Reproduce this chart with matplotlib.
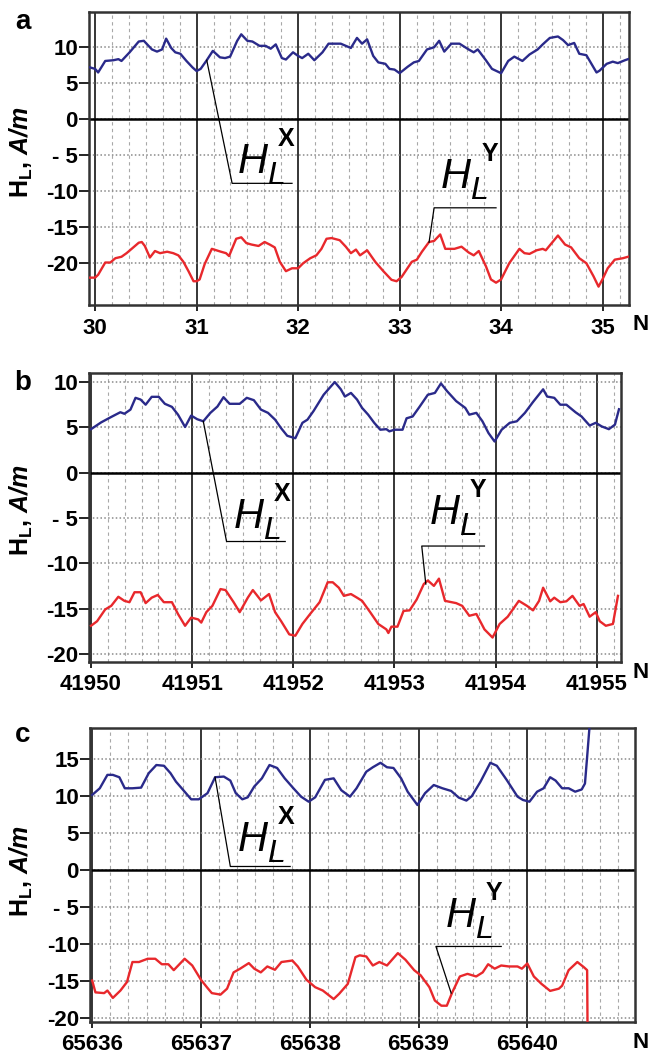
import numpy as np
import matplotlib
matplotlib.use("Agg")
import matplotlib.pyplot as plt
from matplotlib.ticker import MultipleLocator, FixedLocator, FixedFormatter

plt.rcParams['font.family'] = ['Liberation Sans', 'DejaVu Sans']
plt.rcParams['mathtext.fontset'] = 'custom'
plt.rcParams['mathtext.rm'] = 'Liberation Sans'
plt.rcParams['mathtext.it'] = 'Liberation Sans:italic'
plt.rcParams['mathtext.bf'] = 'Liberation Sans:bold'
plt.rcParams['mathtext.bfit'] = 'Liberation Sans:italic:bold'

BLUE = '#2a2a8a'
RED = '#e8282c'

# ---- panel a ----
a_n_x = [29.95, 30.0, 30.03, 30.10, 30.18, 30.23, 30.26, 30.34, 30.43, 30.48, 30.56, 30.61, 30.66, 30.70,
         30.75, 30.79, 30.84, 30.90, 30.96, 31.0, 31.04, 31.10, 31.16, 31.23, 31.28, 31.33, 31.40, 31.44,
         31.50, 31.55, 31.62, 31.68, 31.73, 31.78, 31.84, 31.88, 31.95, 32.0, 32.04, 32.10, 32.16, 32.24,
         32.30, 32.42, 32.52, 32.58, 32.63, 32.68, 32.74, 32.79, 32.86, 32.90, 32.95, 33.0, 33.08, 33.14,
         33.19, 33.27, 33.34, 33.39, 33.44, 33.51, 33.59, 33.68, 33.73, 33.77, 33.85, 33.91, 34.0, 34.07,
         34.13, 34.21, 34.28, 34.36, 34.41, 34.48, 34.56, 34.61, 34.66, 34.72, 34.77, 34.84, 34.94, 34.97,
         35.04, 35.10, 35.15, 35.22, 35.25]
a_hx = [7.2, 7.0, 6.5, 8.1, 8.2, 8.35, 8.1, 9.3, 10.8, 10.9, 9.7, 9.4, 9.7, 11.2,
        9.9, 9.3, 9.1, 8.1, 7.2, 6.7, 7.0, 8.2, 9.5, 8.6, 8.5, 8.7, 10.9, 11.8,
        10.9, 10.8, 10.2, 10.2, 9.8, 10.4, 8.5, 8.3, 9.3, 8.8, 8.5, 9.1, 8.2, 9.3,
        10.5, 10.5, 9.9, 11.3, 10.5, 11.1, 8.8, 7.9, 7.7, 7.0, 6.9, 6.4, 7.3, 7.9,
        8.1, 9.7, 10.0, 10.9, 9.4, 10.5, 10.5, 9.7, 9.3, 9.7, 8.2, 7.0, 6.4, 8.1,
        8.7, 8.1, 9.0, 9.7, 10.4, 11.3, 11.5, 11.0, 10.3, 10.6, 9.1, 8.9, 6.5, 6.75,
        7.7, 8.0, 7.8, 8.2, 8.35]
a_n_y = [29.95, 30.0, 30.03, 30.10, 30.15, 30.20, 30.26, 30.31, 30.36, 30.43, 30.46, 30.49, 30.54, 30.59,
         30.64, 30.71, 30.77, 30.82, 30.87, 30.92, 30.97, 31.0, 31.03, 31.08, 31.15, 31.24, 31.29, 31.32,
         31.39, 31.44, 31.49, 31.54, 31.61, 31.67, 31.72, 31.77, 31.82, 31.88, 31.94, 32.0, 32.05, 32.12,
         32.18, 32.23, 32.28, 32.33, 32.41, 32.47, 32.52, 32.57, 32.61, 32.68, 32.76, 32.84, 32.92, 32.97,
         33.02, 33.12, 33.17, 33.22, 33.29, 33.34, 33.40, 33.45, 33.54, 33.61, 33.68, 33.73, 33.78, 33.85,
         33.90, 33.95, 34.0, 34.08, 34.18, 34.23, 34.28, 34.35, 34.41, 34.44, 34.56, 34.63, 34.69, 34.77,
         34.84, 34.91, 34.96, 35.0, 35.05, 35.12, 35.20, 35.25]
a_hy = [-22.0, -22.0, -21.6, -19.9, -19.9, -19.3, -19.1, -18.6, -18.0, -17.15, -17.05, -17.6, -19.2, -18.3,
        -18.6, -18.4, -18.6, -18.9, -19.8, -21.1, -22.5, -22.5, -22.25, -20.1, -18.0, -18.4, -18.6, -19.0,
        -16.6, -16.4, -17.2, -17.4, -17.6, -17.05, -17.4, -17.8, -19.8, -21.1, -20.7, -20.7, -20.0, -19.3,
        -18.9, -18.0, -16.6, -16.5, -16.8, -17.7, -18.6, -18.1, -18.9, -18.2, -19.8, -21.1, -22.3, -22.5,
        -21.9, -19.8, -19.5, -18.4, -17.05, -16.9, -16.0, -18.0, -18.0, -17.7, -18.5, -18.9, -18.3, -20.4,
        -22.25, -22.7, -22.25, -20.0, -18.0, -18.6, -18.7, -18.2, -18.0, -18.2, -16.15, -17.4, -17.8, -19.3,
        -20.0, -21.8, -23.25, -22.2, -20.7, -19.5, -19.3, -19.1]

# ---- panel b ----
b_n_x = [41950.00, 41950.10, 41950.20, 41950.29, 41950.33, 41950.39, 41950.44, 41950.49, 41950.54, 41950.60,
         41950.67, 41950.73, 41950.80, 41950.86, 41950.93, 41950.99, 41951.05, 41951.11, 41951.18, 41951.25,
         41951.31, 41951.37, 41951.47, 41951.54, 41951.61, 41951.68, 41951.75, 41951.82, 41951.88, 41951.94,
         41952.02, 41952.09, 41952.14, 41952.20, 41952.30, 41952.36, 41952.41, 41952.47, 41952.51, 41952.57,
         41952.63, 41952.68, 41952.74, 41952.80, 41952.86, 41952.92, 41952.95, 41953.00, 41953.08, 41953.12,
         41953.18, 41953.25, 41953.33, 41953.40, 41953.46, 41953.52, 41953.61, 41953.70, 41953.74, 41953.81,
         41953.87, 41953.93, 41953.99, 41954.06, 41954.14, 41954.21, 41954.29, 41954.37, 41954.47, 41954.51,
         41954.58, 41954.64, 41954.70, 41954.79, 41954.85, 41954.93, 41954.99, 41955.05, 41955.12, 41955.18,
         41955.22]
b_hx = [4.8, 5.55, 6.15, 6.67, 6.5, 6.96, 8.26, 8.07, 7.5, 8.37,
        8.37, 7.6, 7.26, 6.4, 5.04, 6.3, 5.9, 5.67, 6.6, 7.3,
        8.33, 7.6, 7.6, 8.26, 8.0, 6.96, 6.6, 5.85, 4.9, 4.07,
        3.8, 5.5, 5.85, 6.8, 8.6, 9.37, 10.0, 9.2, 8.4, 8.8,
        8.07, 7.15, 6.4, 5.5, 4.74, 4.8, 4.56, 4.74, 4.74, 6.0,
        6.2, 7.3, 8.6, 8.8, 9.85, 9.0, 7.9, 7.15, 6.4, 6.6,
        5.67, 4.37, 3.44, 4.74, 5.5, 5.67, 6.6, 7.8, 9.2, 8.4,
        8.26, 7.5, 7.5, 6.67, 6.2, 5.2, 5.5, 5.1, 4.8, 5.3,
        7.0]
b_n_y = [41950.00, 41950.06, 41950.14, 41950.20, 41950.27, 41950.33, 41950.38, 41950.43, 41950.49, 41950.54,
         41950.60, 41950.66, 41950.72, 41950.80, 41950.86, 41950.93, 41950.99, 41951.06, 41951.09, 41951.14,
         41951.20, 41951.28, 41951.33, 41951.41, 41951.47, 41951.55, 41951.60, 41951.68, 41951.76, 41951.82,
         41951.88, 41951.96, 41952.02, 41952.09, 41952.17, 41952.26, 41952.34, 41952.39, 41952.45, 41952.50,
         41952.57, 41952.63, 41952.68, 41952.76, 41952.84, 41952.92, 41952.94, 41952.97, 41953.03, 41953.09,
         41953.15, 41953.22, 41953.29, 41953.33, 41953.39, 41953.44, 41953.50, 41953.61, 41953.67, 41953.74,
         41953.81, 41953.89, 41953.97, 41954.04, 41954.12, 41954.23, 41954.31, 41954.37, 41954.43, 41954.47,
         41954.54, 41954.58, 41954.64, 41954.70, 41954.76, 41954.83, 41954.87, 41954.93, 41954.99, 41955.03,
         41955.09, 41955.16, 41955.21]
b_hy = [-16.9, -16.4, -15.1, -14.7, -13.7, -14.15, -14.3, -13.2, -13.2, -14.4,
        -13.8, -13.5, -14.3, -14.3, -15.6, -16.9, -16.0, -16.2, -16.55, -15.4,
        -14.7, -12.85, -12.96, -14.3, -15.4, -13.8, -12.96, -14.1, -13.4, -15.4,
        -16.4, -17.85, -18.0, -16.7, -15.55, -14.3, -12.1, -12.1, -12.7, -13.6,
        -13.4, -13.8, -14.15, -15.4, -16.7, -17.3, -17.7, -17.0, -17.0, -15.26,
        -15.2, -14.0, -12.3, -11.9, -12.5, -11.7, -14.15, -14.4, -14.7, -15.8,
        -15.6, -17.3, -18.2, -16.7, -15.9, -14.15, -14.7, -15.2, -14.15, -12.7,
        -14.2, -13.8, -14.3, -14.2, -13.6, -14.7, -14.5, -15.9, -15.4, -16.4,
        -16.9, -16.7, -13.6]

# ---- panel c ----
c_n_x = [65636.00, 65636.07, 65636.14, 65636.19, 65636.25, 65636.30, 65636.37, 65636.45, 65636.52, 65636.59,
         65636.66, 65636.72, 65636.77, 65636.85, 65636.91, 65636.98, 65637.06, 65637.13, 65637.21, 65637.27,
         65637.32, 65637.38, 65637.43, 65637.49, 65637.56, 65637.63, 65637.70, 65637.77, 65637.85, 65637.92,
         65637.99, 65638.05, 65638.14, 65638.22, 65638.29, 65638.37, 65638.43, 65638.52, 65638.58, 65638.65,
         65638.71, 65638.77, 65638.84, 65638.90, 65638.99, 65639.06, 65639.14, 65639.22, 65639.30, 65639.37,
         65639.44, 65639.49, 65639.57, 65639.66, 65639.72, 65639.81, 65639.91, 65639.96, 65640.02, 65640.09,
         65640.15, 65640.21, 65640.26, 65640.32, 65640.38, 65640.44, 65640.50, 65640.53, 65640.55, 65640.57,
         65640.59]
c_hx = [10.16, 11.06, 12.87, 12.87, 12.55, 11.06, 11.06, 11.15, 13.1, 14.2,
        14.1, 13.1, 11.96, 10.6, 9.57, 9.57, 10.4, 12.55, 12.64, 12.1,
        10.4, 9.57, 9.84, 11.3, 12.4, 14.2, 13.8, 12.4, 11.06, 9.93,
        9.25, 9.84, 12.2, 12.4, 10.8, 9.93, 11.06, 13.3, 13.9, 14.5,
        13.9, 13.8, 12.4, 10.6, 8.8, 10.4, 11.5, 11.06, 10.7, 9.8,
        9.4, 10.0, 11.96, 14.5, 14.1, 12.2, 9.93, 9.48, 9.25, 10.6,
        11.06, 12.55, 12.1, 11.06, 11.06, 10.6, 10.9, 11.7, 15.3, 19.0,
        24.0]
c_n_y = [65636.00, 65636.03, 65636.11, 65636.14, 65636.19, 65636.26, 65636.32, 65636.37, 65636.43, 65636.51,
         65636.58, 65636.64, 65636.70, 65636.75, 65636.85, 65636.92, 65637.00, 65637.06, 65637.10, 65637.18,
         65637.24, 65637.30, 65637.36, 65637.44, 65637.49, 65637.55, 65637.61, 65637.68, 65637.74, 65637.84,
         65637.89, 65637.97, 65638.05, 65638.12, 65638.22, 65638.27, 65638.35, 65638.42, 65638.46, 65638.52,
         65638.58, 65638.64, 65638.71, 65638.81, 65638.88, 65638.96, 65639.02, 65639.10, 65639.15, 65639.21,
         65639.26, 65639.31, 65639.38, 65639.45, 65639.53, 65639.59, 65639.64, 65639.70, 65639.76, 65639.83,
         65639.91, 65639.95, 65640.00, 65640.06, 65640.13, 65640.21, 65640.29, 65640.32, 65640.38, 65640.46,
         65640.52, 65640.55, 65640.555]
c_hy = [-14.9, -16.5, -16.6, -16.25, -17.25, -16.25, -15.1, -12.4, -12.4, -11.96,
        -11.96, -12.7, -12.7, -13.5, -11.96, -12.87, -14.8, -15.9, -16.6, -16.8,
        -16.0, -13.8, -13.3, -12.55, -13.3, -13.8, -13.0, -13.45, -12.4, -12.2,
        -13.0, -14.8, -15.8, -16.25, -17.4, -16.7, -15.35, -11.74, -11.5, -11.65,
        -12.87, -12.4, -12.87, -11.2, -12.1, -13.5, -14.2, -15.8, -17.6, -18.3,
        -18.3, -16.5, -14.35, -14.0, -14.35, -13.8, -12.7, -13.3, -12.87, -13.0,
        -13.0, -13.3, -12.6, -14.35, -15.35, -16.3, -16.0, -15.6, -13.5, -12.4,
        -13.1, -13.5, -24.0]

panels = [
    dict(letter='a', rect=(89, 12, 629, 305), xlim=(29.94, 35.26), ylim=(-25.8, 14.9),
         xticks=[30, 31, 32, 33, 34, 35], yticks=[10, 5, 0, -5, -10, -15, -20],
         nx=a_n_x, hx=a_hx, ny=a_n_y, hy=a_hy,
         lead_x=[(31.10, 8.2), (31.35, -8.9), (31.94, -8.9)], txt_x=(31.41, -7.4),
         lead_y=[(33.29, -17.1), (33.34, -12.3), (33.95, -12.3)], txt_y=(33.41, -9.6),
         letter_y=22, ylab_y=152, ticklab_y=325),
    dict(letter='b', rect=(89, 373, 621, 662), xlim=(41949.98, 41955.24), ylim=(-20.9, 11.0),
         xticks=[41950, 41951, 41952, 41953, 41954, 41955], yticks=[10, 5, 0, -5, -10, -15, -20],
         nx=b_n_x, hx=b_hx, ny=b_n_y, hy=b_hy,
         lead_x=[(41951.11, 5.67), (41951.34, -7.6), (41951.92, -7.6)], txt_x=(41951.41, -6.1),
         lead_y=[(41953.31, -12.3), (41953.27, -8.1), (41953.89, -8.1)], txt_y=(41953.35, -5.7),
         letter_y=383, ylab_y=510, ticklab_y=673),
    dict(letter='c', rect=(90, 728, 635, 1022), xlim=(65635.98, 65640.99), ylim=(-20.5, 19.2),
         xticks=[65636, 65637, 65638, 65639, 65640], yticks=[15, 10, 5, 0, -5, -10, -15, -20],
         nx=c_n_x, hx=c_hx, ny=c_n_y, hy=c_hy,
         lead_x=[(65637.13, 12.55), (65637.27, 0.5), (65637.82, 0.5)], txt_x=(65637.34, 2.6),
         lead_y=[(65639.30, -16.6), (65639.16, -10.3), (65639.76, -10.3)], txt_y=(65639.25, -7.7),
         letter_y=735, ylab_y=871, ticklab_y=1043),
]

W, H = 648, 1056
fig = plt.figure(figsize=(W / 100, H / 100), dpi=100)


def h_label(ax, pos, sup):
    # italic H with subscript L and an upright superscript
    ax.annotate('H', xy=pos, xytext=(0, 0), textcoords='offset pixels', fontsize=30,
                style='italic', ha='left', va='baseline', color='black')
    ax.annotate('L', xy=pos, xytext=(29, -11), textcoords='offset pixels', fontsize=23,
                style='italic', ha='left', va='baseline', color='black')
    ax.annotate(sup, xy=pos, xytext=(40, 27), textcoords='offset pixels', fontsize=18,
                fontweight='bold', ha='left', va='baseline', color='black')


for p in panels:
    l, t, r, b = p['rect']
    ax = fig.add_axes([l / W, 1 - b / H, (r - l) / W, (b - t) / H])
    ax.set_xlim(*p['xlim'])
    ax.set_ylim(*p['ylim'])

    ax.xaxis.set_major_locator(FixedLocator(p['xticks']))
    ax.xaxis.set_minor_locator(MultipleLocator(1 / 6))
    ax.set_xticklabels([str(v) for v in p['xticks']], fontsize=16, fontweight='bold')
    ax.yaxis.set_major_locator(FixedLocator(p['yticks']))
    ax.yaxis.set_major_formatter(FixedFormatter(['- 5' if v == -5 else str(v) for v in p['yticks']]))
    for lab in ax.get_yticklabels():
        lab.set_fontsize(16)
        lab.set_fontweight('bold')

    ax.tick_params(axis='y', which='major', length=7, width=1.2, pad=1, direction='out')
    ax.tick_params(axis='x', which='major', length=4, width=1.2, pad=5, direction='out')
    ax.tick_params(axis='x', which='minor', length=0)

    ax.set_axisbelow(True)
    ax.grid(True, axis='x', which='minor', color='#a8a8a8', ls=(0, (3, 3)), lw=0.8)
    ax.grid(True, axis='x', which='major', color='black', ls='-', lw=1.1)
    ax.grid(True, axis='y', which='major', color='#8a8a8a', ls=(0, (1, 1.5)), lw=1.1)
    ax.axhline(0, color='black', lw=1.8, zorder=2)
    for s in ax.spines.values():
        s.set_linewidth(1.8)
        s.set_color('#333333')

    ax.plot(p['nx'], p['hx'], color=BLUE, lw=1.7, zorder=3)
    ax.plot(p['ny'], p['hy'], color=RED, lw=1.7, zorder=3)

    xs, ys = zip(*p['lead_x'])
    ax.plot(xs, ys, color='black', lw=0.9, zorder=4)
    xs, ys = zip(*p['lead_y'])
    ax.plot(xs, ys, color='black', lw=0.9, zorder=4)
    h_label(ax, p['txt_x'], 'X')
    h_label(ax, p['txt_y'], 'Y')

    fig.text(23 / W, 1 - p['letter_y'] / H, p['letter'], fontsize=20, fontweight='bold',
             ha='center', va='center')
    fig.text(641 / W, 1 - p['ticklab_y'] / H, 'N', fontsize=16, fontweight='bold',
             ha='center', va='center')
    fig.text(21 / W, 1 - p['ylab_y'] / H, r'$\mathbf{H}_{\mathbf{L}}$, $\mathbfit{A/m}$',
             fontsize=18, fontweight='bold', rotation=90, ha='center', va='center')

fig.savefig('out.png', dpi=100)
